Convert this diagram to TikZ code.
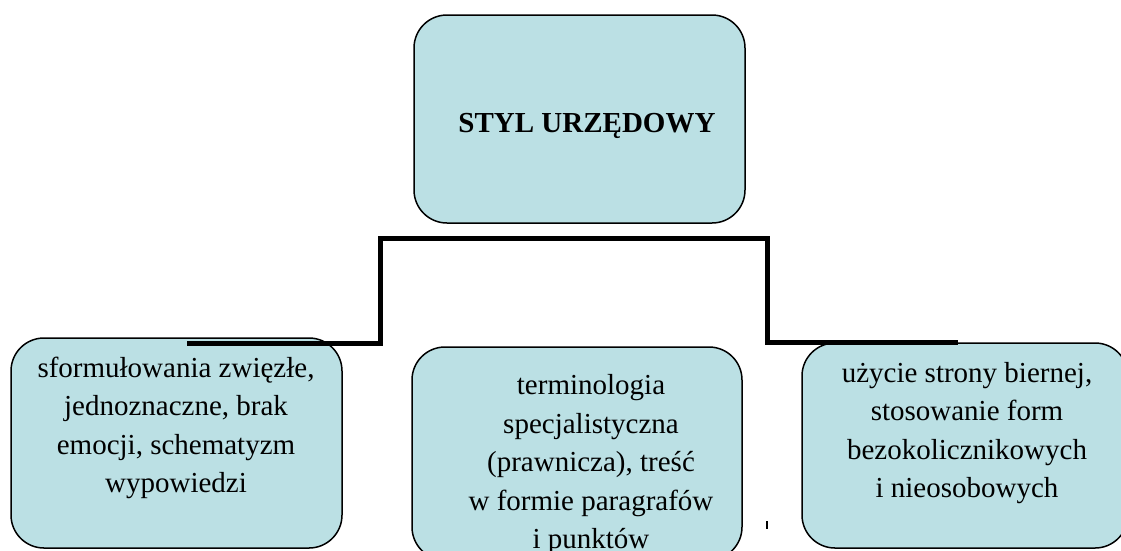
\documentclass[tikz,border=0pt]{standalone}
\usepackage{fontspec}
\setmainfont{Liberation Serif}
\definecolor{boxfill}{RGB}{187,224,228}
\begin{document}
\begin{tikzpicture}[x=1pt,y=-1pt,
  box/.style={draw=black, line width=1.5pt, fill=boxfill, rounded corners=33pt, inner sep=0pt},
  txt/.style={align=center, font=\fontsize{29}{38.5}\selectfont, inner sep=0pt},
  titletxt/.style={font=\fontsize{29}{34}\selectfont\bfseries, inner sep=0pt},
  link/.style={line width=5pt, line join=miter},
  tick/.style={line width=1.2pt},
]
\useasboundingbox (0,0) rectangle (1121,550);
\clip (0,0) rectangle (1121,550);
% boxes
\node[box, minimum width=331pt, minimum height=208pt] (top) at (579.5,119) {};
\node[box, minimum width=331pt, minimum height=210pt] (left) at (176.5,443) {};
\node[box, minimum width=330pt, minimum height=213pt] (mid) at (577,453.5) {};
\node[box, minimum width=326pt, minimum height=205pt] (right) at (965,445.5) {};
% texts
\node[titletxt, anchor=base] (ttitle) at (587,132) {STYL URZĘDOWY};
\node[txt] (tleft) at (176,428) {sformułowania zwięzłe,\\jednoznaczne, brak\\emocji, schematyzm\\wypowiedzi};
\node[txt] (tmid) at (591,465) {terminologia\\specjalistyczna\\(prawnicza), treść\\w formie paragrafów\\i punktów};
\node[txt] (tright) at (967,433) {użycie strony biernej,\\stosowanie form\\bezokolicznikowych\\i nieosobowych};
% connector
\coordinate (c1) at (187,343);
\coordinate (c2) at (380,343);
\coordinate (c3) at (380,238);
\coordinate (c4) at (767,238);
\coordinate (c5) at (767,342);
\coordinate (c6) at (958,342);
\draw[link] (c1) -- (c2) -- (c3) -- (c4) -- (c5) -- (c6);
% stray tick
\coordinate (m1) at (767,521);
\coordinate (m2) at (767,529);
\draw[tick] (m1) -- (m2);
\end{tikzpicture}
\end{document}
